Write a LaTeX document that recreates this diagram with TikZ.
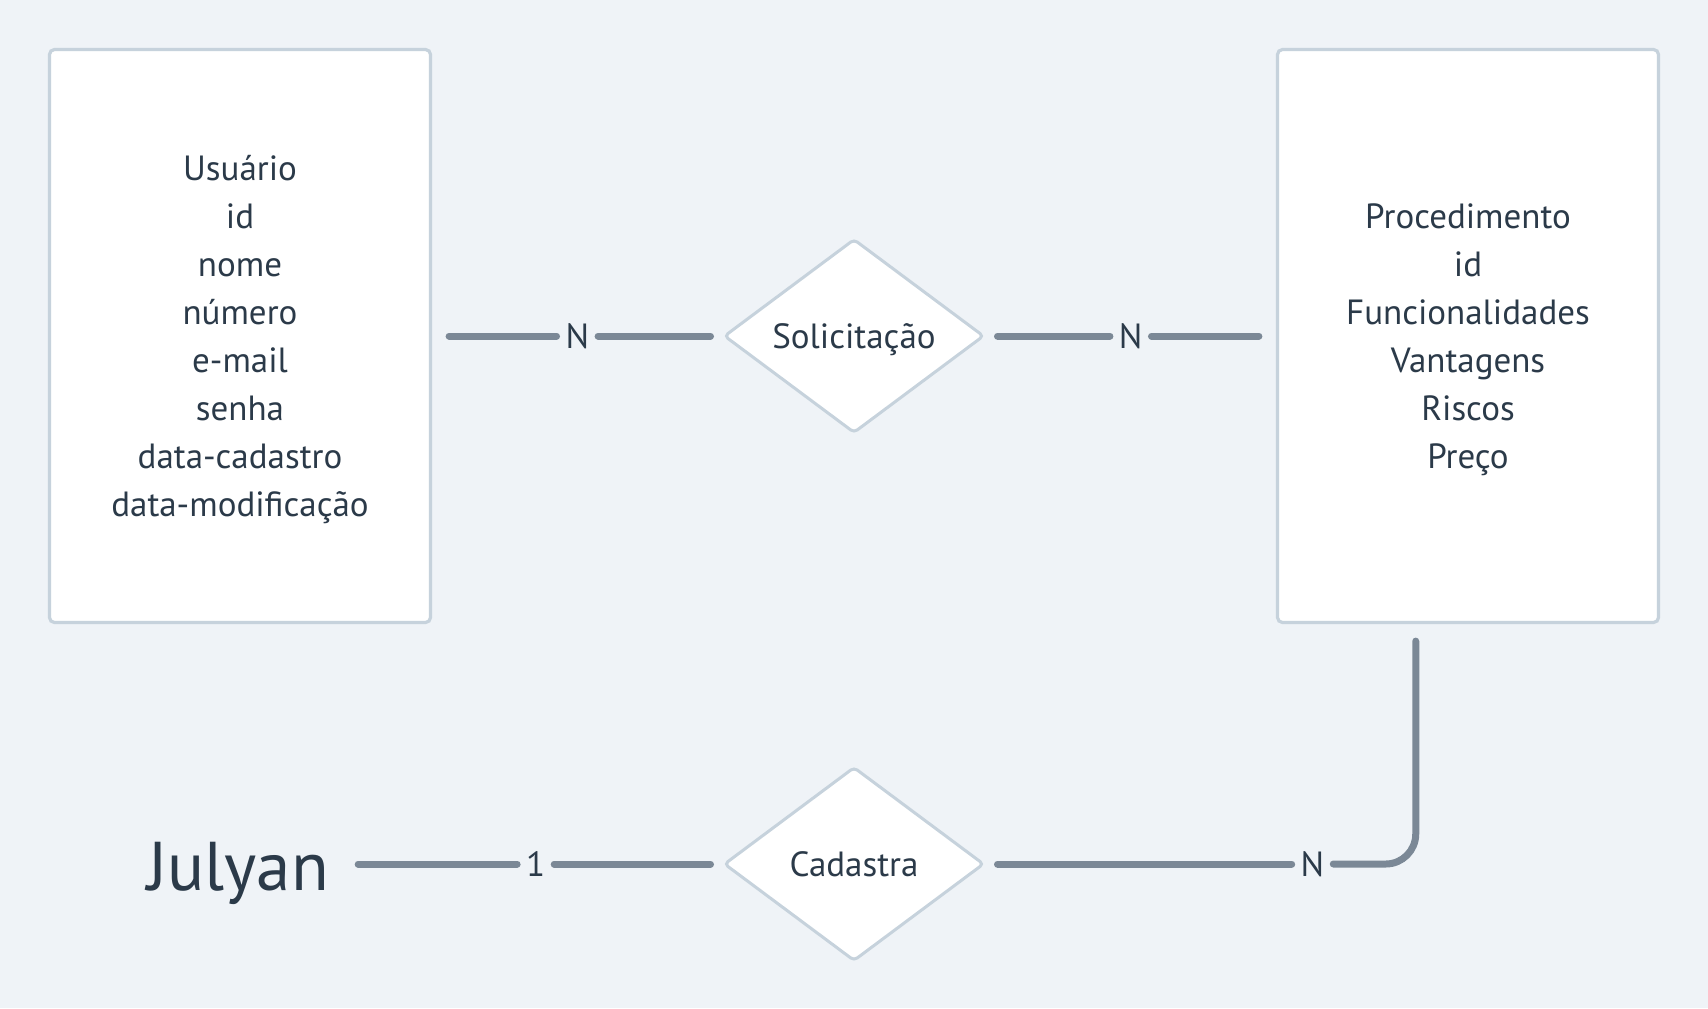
\documentclass[tikz,border=0pt]{standalone}
\usepackage{fontspec}
\setmainfont{PT Sans}
\usetikzlibrary{shapes.geometric,calc}
\definecolor{bgcol}{HTML}{EFF3F7}
\definecolor{edgecol}{HTML}{C6D2DC}
\definecolor{linkcol}{HTML}{7B8896}
\definecolor{inkcol}{HTML}{2B3A49}
\begin{document}
\begin{tikzpicture}[x=0.5pt, y=-0.5pt,
entity/.style={draw=edgecol, line width=1.6pt, fill=white, rounded corners=2.5pt,
  minimum width=190.5pt, minimum height=286.5pt, align=center, text=inkcol,
  text depth=0pt, font=\fontsize{17.5}{24}\selectfont},
relation/.style={diamond, draw=edgecol, line width=1.5pt, fill=white, rounded corners=2pt,
  minimum width=130pt, minimum height=97pt, aspect=1.35, text=inkcol,
  text height=12.25pt, text depth=0pt, font=\fontsize{17.5}{21}\selectfont},
card/.style={inner sep=4.5pt, outer sep=0pt, text=inkcol, font=\fontsize{17.5}{21}\selectfont},
link/.style={draw=linkcol, line width=3.5pt, line cap=round}]
\useasboundingbox (0,0) rectangle (1708,1008);
\fill[bgcol] (0,0) rectangle (1708,1008);

% entities
\node[entity, text height=180.25pt] (usr) at (240,336) {Usuário\\id\\nome\\número\\e-mail\\senha\\data-cadastro\\data-modificação};
\node[entity, text height=132.25pt] (proc) at (1468,336) {Procedimento\\id\\Funcionalidades\\Vantagens\\Riscos\\Preço};
\node[anchor=base, inner sep=0pt, text=inkcol, font=\fontsize{34.5}{40}\selectfont] (julyan) at (238,890) {Julyan};

% relations
\node[relation] (sol) at (854,336) {Solicitação};
\node[relation] (cad) at (854,864) {Cadastra};

% cardinalities
\node[card] (c1) at ($(usr.east)!0.5!(sol.west)$) {N};
\node[card] (c2) at ($(sol.east)!0.5!(proc.west)$) {N};
\coordinate (procfoot) at ($(proc.south west)!0.364!(proc.south east)$);
\node[card] (c3) at ($(julyan.east |- cad.west)!0.525!(cad.west)$) {1};
\node[card] (c4) at ($(cad.east)!0.76!(cad.east -| procfoot)$) {N};

\draw[link, shorten <=8.5pt] (usr.east) -- (c1);
\draw[link, shorten >=6pt] (c1) -- (sol.west);
\draw[link, shorten <=6pt] (sol.east) -- (c2);
\draw[link, shorten >=8.5pt] (c2) -- (proc.west);
\draw[link, shorten <=14.5pt] (julyan.east |- cad.west) -- (c3);
\draw[link, shorten >=6pt] (c3) -- (cad.west);
\draw[link, shorten <=6pt] (cad.east) -- (c4);
\draw[link, shorten >=8.5pt, rounded corners=15pt] (c4) -- (c4 -| procfoot) -- (procfoot);
\end{tikzpicture}
\end{document}
